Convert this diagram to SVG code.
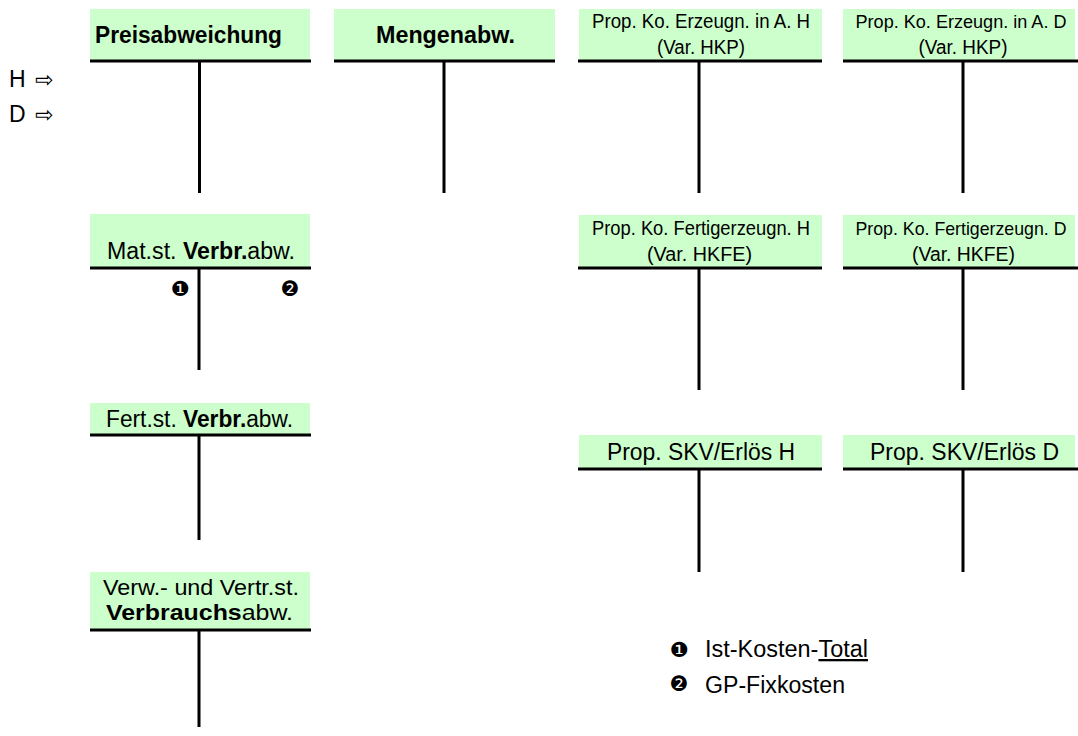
<svg xmlns="http://www.w3.org/2000/svg" width="1078" height="736" viewBox="0 0 1078 736">
<style>
text{font-family:"Liberation Sans",Arial,"DejaVu Sans",sans-serif;fill:#000;font-size:23px}
.box{fill:#CCFFCC;stroke:none}
.t{stroke:#000;stroke-width:3;fill:none}
.b{font-weight:bold}
.n{font-size:19.5px}
.nd{font-size:18.5px}
.v{font-size:21.5px}
.m{text-anchor:middle}
.dg{font-family:"DejaVu Sans",sans-serif;font-size:21px}
.ar{font-family:"DejaVu Sans",sans-serif;font-size:22px}
</style>
<rect width="1078" height="736" fill="#fff"/>
<g id="side-labels">
<text x="9" y="87">H <tspan x="35" class="ar">⇨</tspan></text>
<text x="9" y="122">D <tspan x="35" class="ar">⇨</tspan></text>
</g>
<g id="preisabweichung">
<rect class="box" x="90" y="9" width="220" height="51"/>
<text class="b" x="95" y="43" textLength="187" lengthAdjust="spacingAndGlyphs">Preisabweichung</text>
<path class="t" d="M90 61H311M199.5 61V193"/>
</g>
<g id="mengenabw">
<rect class="box" x="334" y="9" width="221" height="51"/>
<text class="b" x="376" y="43" textLength="139" lengthAdjust="spacingAndGlyphs">Mengenabw.</text>
<path class="t" d="M334 61H555M444 61V193"/>
</g>
<g id="erzeugn-h">
<rect class="box" x="579" y="9" width="243" height="51"/>
<text class="n m" x="701" y="28" textLength="218" lengthAdjust="spacingAndGlyphs">Prop. Ko. Erzeugn. in A. H</text>
<text class="n m" x="701" y="54" textLength="88" lengthAdjust="spacingAndGlyphs">(Var. HKP)</text>
<path class="t" d="M578 61H822M699 61V193"/>
</g>
<g id="erzeugn-d">
<rect class="box" x="843" y="9" width="232" height="51"/>
<text class="nd m" x="961" y="28" textLength="211" lengthAdjust="spacingAndGlyphs">Prop. Ko. Erzeugn. in A. D</text>
<text class="n m" x="963" y="54" textLength="89" lengthAdjust="spacingAndGlyphs">(Var. HKP)</text>
<path class="t" d="M843 61H1078M963 61V193"/>
</g>
<g id="matst">
<rect class="box" x="90" y="214" width="220" height="53"/>
<text x="107" y="259" textLength="188" lengthAdjust="spacingAndGlyphs">Mat.st. <tspan class="b">Verbr.</tspan>abw.</text>
<path class="t" d="M90 268H311M199 268V370"/>
<text class="dg" x="180" y="296" text-anchor="middle">❶</text>
<text class="dg" x="290" y="296" text-anchor="middle">❷</text>
</g>
<g id="fertigerzeugn-h">
<rect class="box" x="579" y="215" width="243" height="52"/>
<text class="n m" x="701" y="235" textLength="218" lengthAdjust="spacingAndGlyphs">Prop. Ko. Fertigerzeugn. H</text>
<text class="n m" x="699.5" y="261" textLength="105" lengthAdjust="spacingAndGlyphs">(Var. HKFE)</text>
<path class="t" d="M578 268H822M699 268V390"/>
</g>
<g id="fertigerzeugn-d">
<rect class="box" x="843" y="215" width="232" height="52"/>
<text class="nd m" x="961" y="235" textLength="211" lengthAdjust="spacingAndGlyphs">Prop. Ko. Fertigerzeugn. D</text>
<text class="n m" x="963.5" y="261" textLength="103" lengthAdjust="spacingAndGlyphs">(Var. HKFE)</text>
<path class="t" d="M843 268H1078M963 268V390"/>
</g>
<g id="fertst">
<rect class="box" x="90" y="403" width="220" height="31"/>
<text x="106" y="427" textLength="187" lengthAdjust="spacingAndGlyphs">Fert.st. <tspan class="b">Verbr.</tspan>abw.</text>
<path class="t" d="M90 435H311M199 435V540"/>
</g>
<g id="skv-h">
<rect class="box" x="579" y="435" width="243" height="33"/>
<text class="m" x="701" y="460" textLength="188" lengthAdjust="spacingAndGlyphs">Prop. SKV/Erlös H</text>
<path class="t" d="M578 469H822M699 469V572"/>
</g>
<g id="skv-d">
<rect class="box" x="843" y="435" width="232" height="33"/>
<text class="m" x="964.5" y="460" textLength="189" lengthAdjust="spacingAndGlyphs">Prop. SKV/Erlös D</text>
<path class="t" d="M843 469H1078M963 469V572"/>
</g>
<g id="verwst">
<rect class="box" x="90" y="572" width="220" height="57"/>
<text class="v" x="103" y="595" textLength="196" lengthAdjust="spacingAndGlyphs">Verw.- und Vertr.st.</text>
<text class="v" x="106" y="620" textLength="187" lengthAdjust="spacingAndGlyphs"><tspan class="b">Verbrauchs</tspan>abw.</text>
<path class="t" d="M90 630H311M199 630V727"/>
</g>
<g id="legend">
<text class="dg" x="679" y="657" text-anchor="middle">❶</text>
<text x="705" y="657" textLength="163" lengthAdjust="spacingAndGlyphs">Ist-Kosten-<tspan style="text-decoration:underline">Total</tspan></text>
<text class="dg" x="679" y="691" text-anchor="middle">❷</text>
<text x="705" y="693" textLength="140" lengthAdjust="spacingAndGlyphs">GP-Fixkosten</text>
</g>
</svg>
